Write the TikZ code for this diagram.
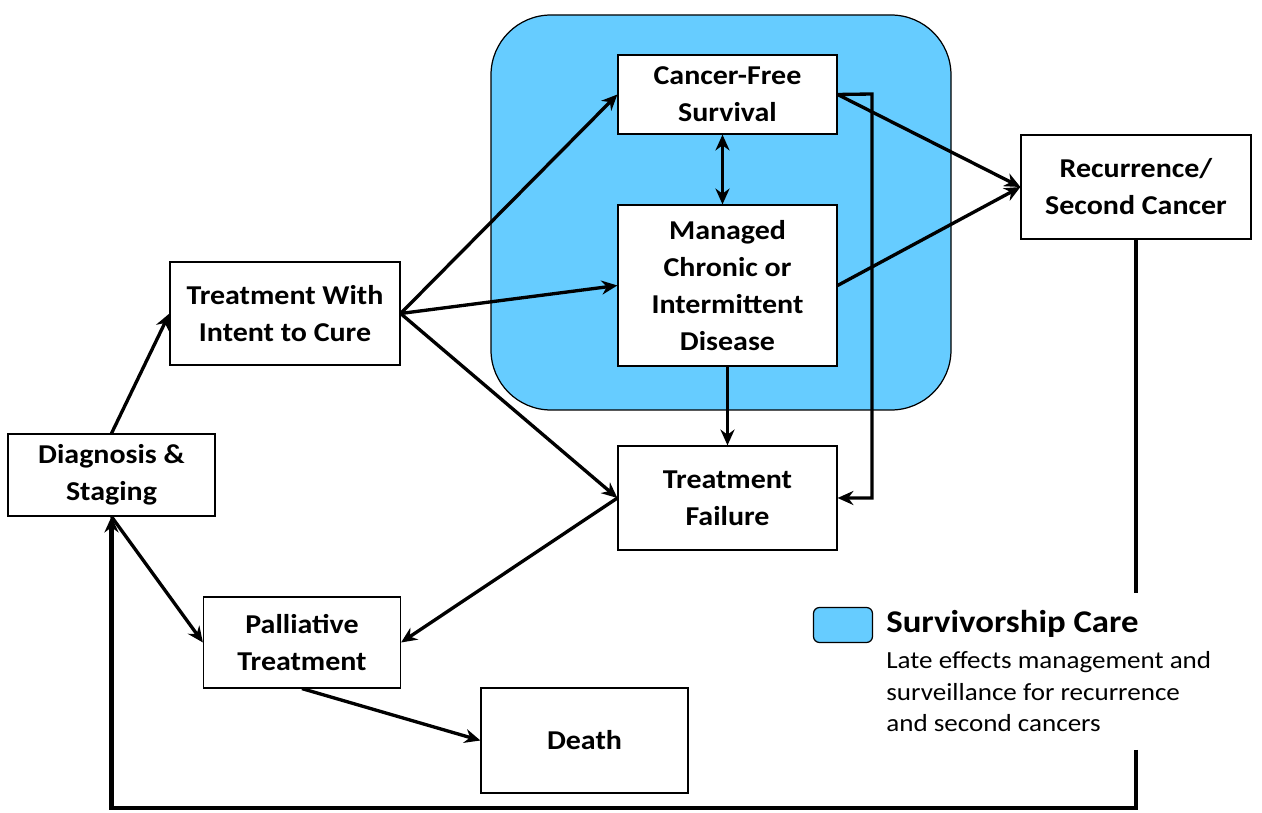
\documentclass[tikz,border=0pt]{standalone}
\usepackage{fontspec}
\setmainfont{Carlito}[FakeStretch=1.1]
\usetikzlibrary{arrows.meta,positioning}
\definecolor{survblue}{RGB}{102,204,255}
\tikzstyle{stage}=[
	rectangle,
	draw=black,
	line width=0.7pt,
	fill=white,
	align=center,
	inner sep=0pt,
	font=\bfseries\fontsize{15.5}{21}\selectfont
]
\tikzstyle{flow}=[
	->,
	>={Stealth[length=9pt,width=8pt]},
	line width=1.9pt
]
\tikzstyle{loopline}=[
	line width=2.6pt,
	>={Stealth[length=9pt,width=8pt]}
]
\begin{document}
\begin{tikzpicture}[x=0.02cm,y=-0.02cm]
\useasboundingbox (0,0) rectangle (1262,813);
% survivorship care region
\draw[fill=survblue, line width=0.7pt, rounded corners=1.2cm] (491,15) rectangle (951,410);

\node [stage, minimum width=4.14cm, minimum height=1.64cm] (diag) at (111.5,475) {Diagnosis \&\\Staging};
\node [stage, minimum width=4.6cm, minimum height=2.06cm] (cure) at (285,313.5) {Treatment With\\Intent to Cure};
\node [stage, minimum width=3.94cm, minimum height=1.82cm] (pall) at (302,642.5) {Palliative\\Treatment};
\node [stage, minimum width=4.14cm, minimum height=2.1cm] (death) at (584.5,740.5) {Death};
\node [stage, minimum width=4.38cm, minimum height=1.58cm] (cfs) at (727.5,94.5) {Cancer-Free\\Survival};
\node [stage, minimum width=4.38cm, minimum height=3.22cm] (mcd) at (727.5,285.5) {Managed\\Chronic or\\Intermittent\\Disease};
\node [stage, minimum width=4.38cm, minimum height=2.08cm] (tf) at (727.5,498) {Treatment\\Failure};
\node [stage, minimum width=4.6cm, minimum height=2.08cm] (rec) at (1136,187) {Recurrence/\\Second Cancer};

% legend
\node [draw=black, line width=0.7pt, fill=survblue, rounded corners=0.12cm, minimum width=1.18cm, minimum height=0.7cm] (legkey) at (843,625) {};
\node [anchor=base west, inner sep=0pt, font=\bfseries\fontsize{18}{21}\selectfont] (legtitle) at (886,633) {Survivorship Care};
\node [anchor=base west, inner sep=0pt, align=left, font=\fontsize{14}{18}\selectfont] (legtext) at (886,732) {Late effects management and\\surveillance for recurrence\\and second cancers};

\coordinate (gapTop) at (1136,593);
\coordinate (gapBot) at (1136,750);
\coordinate (loopCorner) at (1136,808);
\coordinate (bendTop) at (872,94);

\draw[flow] (diag.north) -- (cure.west);
\draw[flow] (diag.south) -- (pall.west);
\draw[flow] (cure.east) -- (cfs.west);
\draw[flow] (cure.east) -- (mcd.west);
\draw[flow] (cure.east) -- (tf.west);
\draw[flow] (tf.west) -- (pall.east);
\draw[flow] (pall.south) -- (death.west);
\draw[flow,<->] ([xshift=-0.1cm]cfs.south) -- ([xshift=-0.1cm]mcd.north);
\draw[flow] (mcd.south) -- (tf.north);
\draw[flow] (cfs.east) -- (rec.west);
\draw[flow] (mcd.east) -- (rec.west);
\draw[flow] (cfs.east) -- (bendTop) |- (tf.east);
\draw[loopline] (rec.south) -- (gapTop);
\draw[loopline,->] (gapBot) -- (loopCorner) -| (diag.south);
\end{tikzpicture}
\end{document}
